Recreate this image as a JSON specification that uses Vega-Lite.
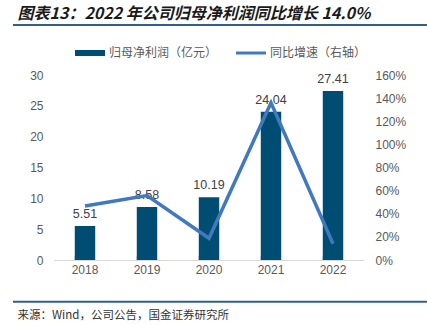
{
  "$schema": "https://vega.github.io/schema/vega-lite/v6.json",
  "width": 310,
  "height": 185,
  "autosize": "none",
  "padding": {"left": 54, "top": 75, "right": 63, "bottom": 65},
  "background": "white",
  "config": {"view": {"stroke": null}, "font": "Liberation Sans"},
  "data": {
    "values": [
      {"year": "2018", "profit": 5.51, "yoy": 0.467},
      {"year": "2019", "profit": 8.58, "yoy": 0.557},
      {"year": "2020", "profit": 10.19, "yoy": 0.188},
      {"year": "2021", "profit": 24.04, "yoy": 1.359},
      {"year": "2022", "profit": 27.41, "yoy": 0.14}
    ]
  },
  "layer": [
    {
      "mark": {"type": "bar", "color": "#004D74"},
      "encoding": {
        "x": {
          "field": "year",
          "type": "ordinal",
          "scale": {"type": "band", "paddingInner": 0.67, "paddingOuter": 0.335},
          "axis": {
            "orient": "bottom",
            "labelAngle": 0,
            "labelFont": "Liberation Sans",
            "labelFontSize": 12,
            "labelColor": "#595959",
            "labelPadding": 8,
            "bandPosition": 0,
            "tickSize": -4,
            "tickColor": "#d9d9d9",
            "domainColor": "#d9d9d9",
            "domainWidth": 1,
            "title": "来源：Wind，公司公告，国金证券研究所",
            "titleAnchor": "start",
            "titleAlign": "left",
            "titleX": -37,
            "titleY": 55,
            "titleBaseline": "middle",
            "titleFont": "Noto Sans CJK SC",
            "titleFontSize": 11.5,
            "titleFontWeight": "normal",
            "titleColor": "#333333"
          }
        },
        "y": {
          "field": "profit",
          "type": "quantitative",
          "scale": {"domain": [0, 30], "nice": false},
          "axis": {
            "title": null,
            "values": [0, 5, 10, 15, 20, 25, 30],
            "grid": false,
            "domain": false,
            "ticks": false,
            "labelPadding": 11,
            "labelFont": "Liberation Sans",
            "labelFontSize": 12,
            "labelColor": "#595959"
          }
        },
        "color": {
          "datum": "归母净利润（亿元）",
          "type": "nominal",
          "scale": {
            "domain": ["归母净利润（亿元）", "同比增速（右轴）"],
            "range": ["#004D74", "#4079BD"]
          },
          "legend": {
            "title": null,
            "orient": "none",
            "direction": "horizontal",
            "legendX": 21,
            "legendY": -37,
            "padding": 0,
            "symbolType": "M-1,-0.2H1V0.2H-1Z",
            "symbolSize": 900,
            "labelFont": "Noto Sans CJK SC",
            "labelFontSize": 12,
            "labelColor": "#595959",
            "labelOffset": 4,
            "columnPadding": 18,
            "encode": {
              "symbols": {
                "update": {
                  "shape": {"signal": "datum.value === '归母净利润（亿元）' ? 'M-1,-0.2H1V0.2H-1Z' : 'M-1,-0.1H1V0.1H-1Z'"},
                  "fill": {"scale": "color", "field": "value"},
                  "stroke": {"value": "transparent"},
                  "strokeWidth": {"value": 0},
                  "opacity": {"value": 1}
                }
              }
            }
          }
        }
      }
    },
    {
      "mark": {"type": "text", "baseline": "bottom", "dy": -5, "font": "Liberation Sans", "fontSize": 12.5, "color": "#404040"},
      "encoding": {
        "x": {
          "field": "year",
          "type": "ordinal",
          "scale": {"type": "band", "paddingInner": 0.67, "paddingOuter": 0.335},
          "axis": null
        },
        "y": {
          "field": "profit",
          "type": "quantitative",
          "scale": {"domain": [0, 30], "nice": false},
          "axis": null
        },
        "text": {"field": "profit", "type": "quantitative", "format": ".2f"}
      }
    },
    {
      "mark": {"type": "line", "color": "#4079BD", "strokeWidth": 3.5},
      "encoding": {
        "x": {
          "field": "year",
          "type": "ordinal",
          "scale": {"type": "band", "paddingInner": 0.67, "paddingOuter": 0.335},
          "axis": {
            "orient": "top",
            "offset": 51,
            "labels": false,
            "ticks": false,
            "domain": false,
            "title": "图表13：2022 年公司归母净利润同比增长 14.0%",
            "titleAnchor": "start",
            "titleAlign": "left",
            "titleX": -37,
            "titleY": -6,
            "titleBaseline": "alphabetic",
            "titleFont": "Noto Sans CJK SC",
            "titleFontSize": 16,
            "titleFontStyle": "italic",
            "titleFontWeight": "bold",
            "titleColor": "#1a1a1a"
          }
        },
        "y": {
          "field": "yoy",
          "type": "quantitative",
          "scale": {"domain": [0, 1.6], "nice": false},
          "axis": {
            "orient": "right",
            "title": null,
            "format": ".0%",
            "values": [0, 0.2, 0.4, 0.6, 0.8, 1.0, 1.2, 1.4, 1.6],
            "grid": false,
            "domain": false,
            "ticks": false,
            "labelPadding": 11,
            "labelFont": "Liberation Sans",
            "labelFontSize": 12,
            "labelColor": "#595959"
          }
        },
        "color": {"datum": "同比增速（右轴）", "type": "nominal"}
      }
    },
    {
      "data": {"values": [{}]},
      "mark": {"type": "rule", "color": "#2F5F8A", "strokeWidth": 2},
      "encoding": {
        "x": {"datum": -0.1323, "type": "quantitative", "scale": {"domain": [0, 1], "nice": false, "zero": false}, "axis": null},
        "x2": {"datum": 1.2032},
        "y": {"datum": 38.11, "type": "quantitative", "scale": {"domain": [0, 30], "nice": false}, "axis": null}
      }
    },
    {
      "data": {"values": [{}]},
      "mark": {"type": "rule", "color": "#2F5F8A", "strokeWidth": 2},
      "encoding": {
        "x": {"datum": -0.1323, "type": "quantitative", "scale": {"domain": [0, 1], "nice": false, "zero": false}, "axis": null},
        "x2": {"datum": 1.2032},
        "y": {"datum": -6.76, "type": "quantitative", "scale": {"domain": [0, 30], "nice": false}, "axis": null}
      }
    }
  ],
  "resolve": {"scale": {"x": "independent", "y": "independent"}, "axis": {"x": "independent"}}
}
